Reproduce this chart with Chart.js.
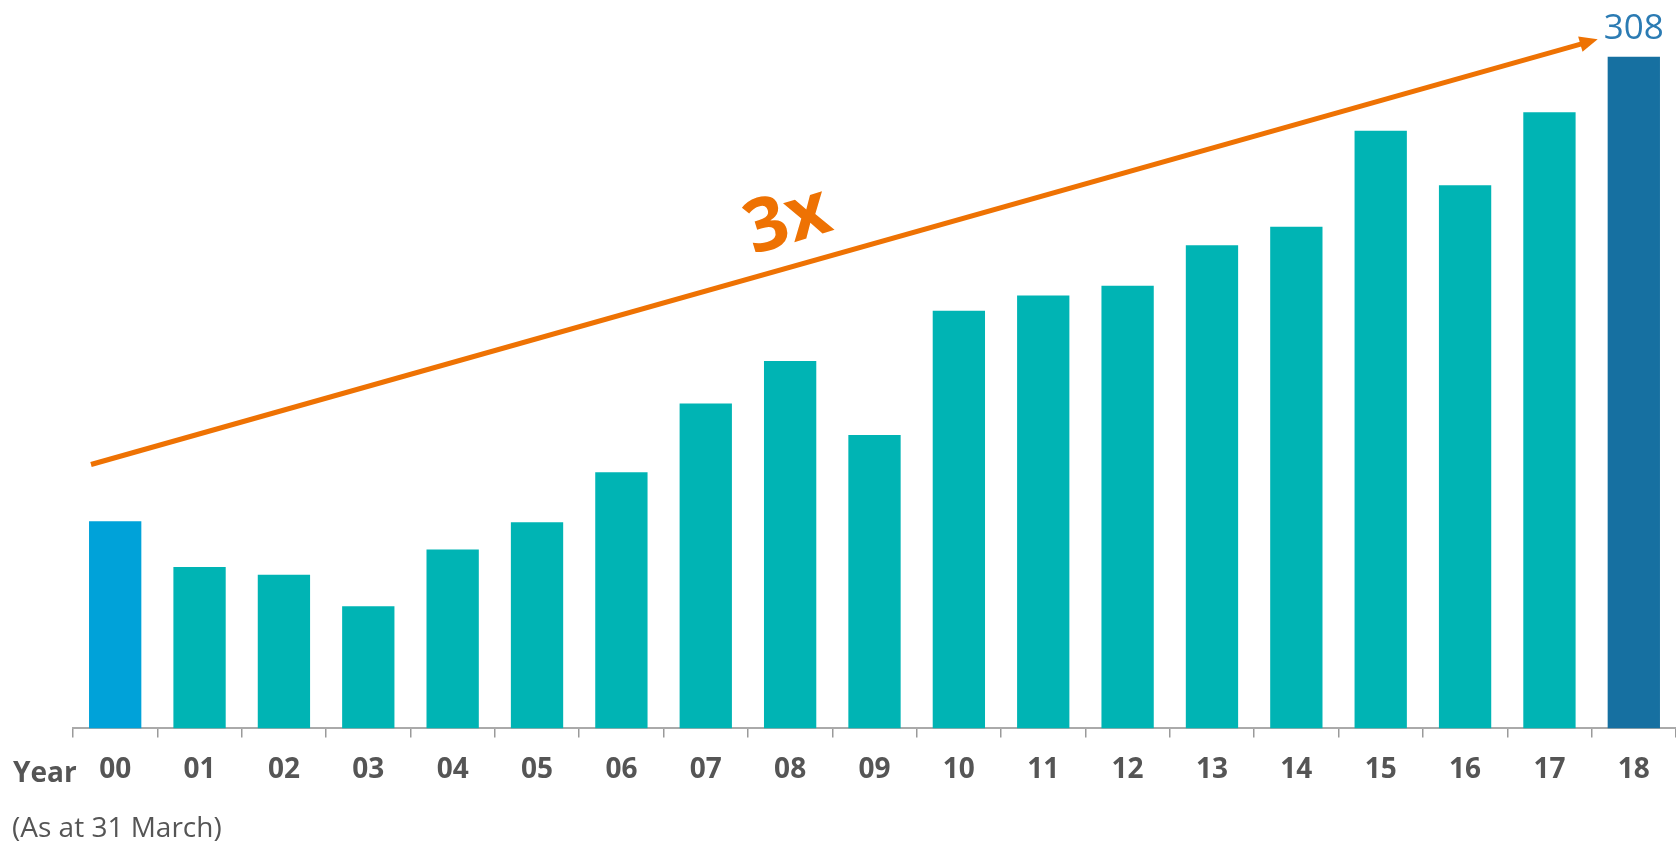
<!DOCTYPE html>
<html>
<head>
<meta charset="utf-8">
<script src="https://cdn.jsdelivr.net/npm/chart.js@4"></script>
<style>
  html, body { margin: 0; padding: 0; background: #fff; }
  #wrap { width: 1676px; height: 847px; position: relative; }
</style>
</head>
<body>
<div id="wrap"><canvas id="yearChart"></canvas></div>
<script>
const years = ["00", "01", "02", "03", "04", "05", "06", "07", "08", "09",
               "10", "11", "12", "13", "14", "15", "16", "17", "18"];
const values = [95, 74, 70.5, 56, 82, 94.5, 117.5, 149, 168.5, 134.5,
                191.5, 198.5, 203, 221.5, 230, 274, 249, 282.5, 308];
const barColors = years.map((y, i) =>
  i === 0 ? "#00A2D9" : i === years.length - 1 ? "#1670A1" : "#00B4B4");

const labelFont = "'Open Sans', 'Noto Sans', sans-serif";

// arrow, "3x", "Year", footnote and last value label
const annotations = {
  id: "annotations",
  afterDatasetsDraw(chart) {
    const { ctx, scales: { x, y }, chartArea } = chart;
    const last = chart.getDatasetMeta(0).data[values.length - 1];

    ctx.save();
    // trend arrow
    const x0 = chartArea.left + 18, y0 = y.getPixelForValue(121);
    const x1 = last.x - last.width / 2 - 10, y1 = y.getPixelForValue(316);
    const ang = Math.atan2(y1 - y0, x1 - x0);
    ctx.strokeStyle = "#EE7203";
    ctx.fillStyle = "#EE7203";
    ctx.lineWidth = 5;
    ctx.beginPath();
    ctx.moveTo(x0, y0);
    ctx.lineTo(x1 - 14 * Math.cos(ang), y1 - 14 * Math.sin(ang));
    ctx.stroke();
    ctx.beginPath();
    ctx.moveTo(x1, y1);
    ctx.lineTo(x1 - 18 * Math.cos(ang) + 8 * Math.sin(ang), y1 - 18 * Math.sin(ang) - 8 * Math.cos(ang));
    ctx.lineTo(x1 - 18 * Math.cos(ang) - 8 * Math.sin(ang), y1 - 18 * Math.sin(ang) + 8 * Math.cos(ang));
    ctx.closePath();
    ctx.fill();

    // 3x
    ctx.save();
    ctx.translate(788, 222);
    ctx.rotate(-0.3);
    ctx.font = "bold 74px " + labelFont;
    ctx.textAlign = "center";
    ctx.textBaseline = "middle";
    ctx.fillText("3x", 0, 0);
    ctx.restore();

    // value on last bar
    ctx.fillStyle = "#2B7BB3";
    ctx.font = "35px " + labelFont;
    ctx.textAlign = "center";
    ctx.textBaseline = "bottom";
    ctx.fillText(String(values[values.length - 1]), last.x, last.y - 10);

    // axis caption
    ctx.fillStyle = "#555555";
    ctx.textAlign = "left";
    ctx.textBaseline = "middle";
    ctx.font = "bold 28px " + labelFont;
    ctx.fillText("Year", 13, 774);
    ctx.font = "28px " + labelFont;
    ctx.fillText("(As at 31 March)", 12, 829);
    ctx.restore();
  }
};

new Chart(document.getElementById("yearChart"), {
  type: "bar",
  data: {
    labels: years,
    datasets: [
      {
        data: values,
        backgroundColor: barColors,
        borderWidth: 0,
        barPercentage: 0.62,
        categoryPercentage: 1,
      },
    ],
  },
  options: {
    responsive: true,
    maintainAspectRatio: false,
    animation: false,
    layout: { padding: { left: 73, right: 0, top: 0, bottom: 44 } },
    plugins: {
      legend: { display: false },
      tooltip: { enabled: false },
    },
    scales: {
      x: {
        grid: {
          display: true,
          drawOnChartArea: false,
          drawTicks: true,
          tickLength: 9,
          color: "#9a9a9a",
          lineWidth: 1.5,
        },
        border: { display: true, color: "#aaaaaa", width: 2 },
        ticks: {
          color: "#555555",
          padding: 16,
          font: { family: labelFont, size: 28, weight: "bold" },
        },
      },
      y: {
        display: false,
        min: 0,
        max: 334,
      },
    },
  },
  plugins: [annotations],
});
</script>
</body>
</html>
